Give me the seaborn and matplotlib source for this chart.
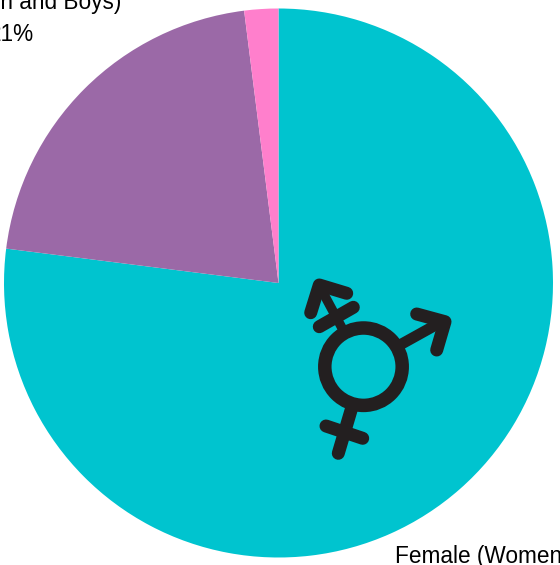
"""
Pie chart of gender split with the transgender symbol on top
"""

import matplotlib
matplotlib.use("Agg")
import matplotlib.pyplot as plt
from matplotlib.patches import Circle
import seaborn as sns

categories = ['Female (Women and Girls)', 'Male (Men and Boys)', 'Other']
shares = [77, 21, 2]
colors = ['#00C4CF', '#9B69A7', '#FF7FCC']
male_label = ['Male (Men and Boys)', '21%']
female_label = 'Female (Women and Girls)'

HEIGHT = 565
INK = '#231F20'


def flip(points):
    return [p[0] for p in points], [HEIGHT - p[1] for p in points]


def stroke(ax, points, width):
    xs, ys = flip(points)
    # width is in pixels, the figure is 100 dpi
    ax.plot(xs, ys, color=INK, lw=width * 0.72, solid_capstyle='round', solid_joinstyle='round')


def main():
    sns.set_theme(style="white")
    plt.rcParams['font.family'] = ['Liberation Sans', 'DejaVu Sans']

    fig = plt.figure(figsize=(5.6, 5.65), dpi=100)
    ax = fig.add_axes([0, 0, 1, 1])
    ax.pie(shares, colors=sns.color_palette(colors), startangle=90, counterclock=False,
           center=(278.5, HEIGHT - 283), radius=274.5, frame=True,
           wedgeprops={'linewidth': 0})
    ax.set_xlim(0, 560)
    ax.set_ylim(0, HEIGHT)
    ax.axis('off')

    # ring
    ax.add_patch(Circle((363.5, HEIGHT - 366.7), 38.7, fill=False, ec=INK, lw=13.5 * 0.72))
    # female arm
    stroke(ax, [(351.7, 408), (338.3, 453.3)], 13)
    stroke(ax, [(326, 426), (362.7, 438.3)], 13)
    # male arm
    stroke(ax, [(398, 346), (443, 321)], 11)
    stroke(ax, [(416.7, 314), (445, 321.7), (436.7, 350)], 13)
    # trans arm
    stroke(ax, [(342, 328), (320, 287)], 9.5)
    stroke(ax, [(310.7, 312.7), (319.3, 285), (346.7, 293.3)], 13)
    stroke(ax, [(319.3, 326.7), (353.3, 307.3)], 13)

    ax.text(121, HEIGHT - 9, male_label[0], ha='right', va='baseline', fontsize=16.3, color='black')
    ax.text(33.5, HEIGHT - 41, male_label[1], ha='right', va='baseline', fontsize=16.3, color='black')
    ax.text(395, HEIGHT - 563.5, female_label, ha='left', va='baseline', fontsize=16.3, color='black')

    fig.savefig("out.png", dpi=100)


if __name__ == "__main__":
    main()
